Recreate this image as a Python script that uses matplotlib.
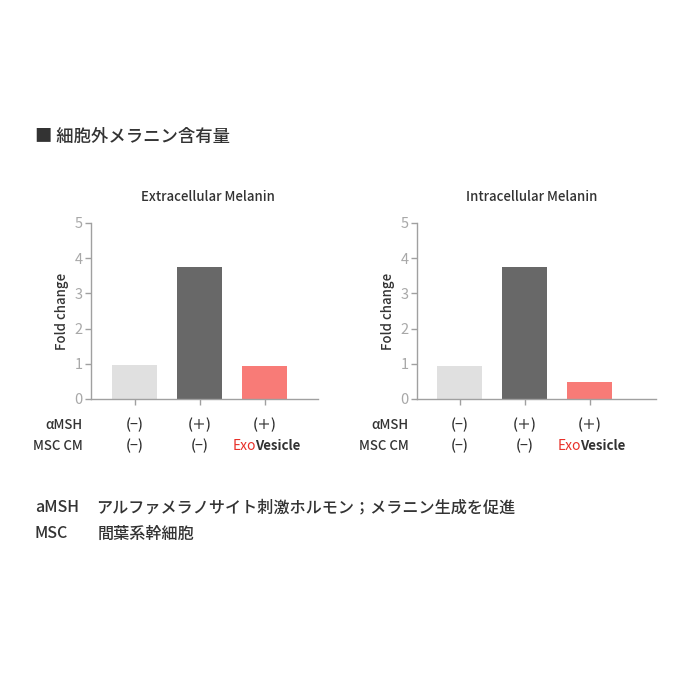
import matplotlib
matplotlib.use("Agg")
import matplotlib.pyplot as plt
import matplotlib.transforms as mtransforms

plt.rcParams['font.family'] = ['Noto Sans CJK JP', 'DejaVu Sans']

# ---- data ----
titles = ["Extracellular Melanin", "Intracellular Melanin"]
extracellular = [0.98, 3.76, 0.93]
intracellular = [0.94, 3.76, 0.49]
amsh_labels = ["(−)", "(＋)", "(＋)"]
msc_labels = ["(−)", "(−)", None]  # None -> ExoVesicle
yticks = [0, 1, 2, 3, 4, 5]
bar_colors = ["#e0e0e0", "#686868", "#f87b77"]
header = "■ 細胞外メラニン含有量"
notes = [("aMSH", "アルファメラノサイト刺激ホルモン；メラニン生成を促進"),
         ("MSC", "間葉系幹細胞")]

W = H = 700
fig = plt.figure(figsize=(7, 7), dpi=100)
fig.patch.set_facecolor("white")

def fx(px):
    return px / W

def fy(py):
    return 1 - py / H

spine_c = "#a0a0a0"
tick_c = "#a8a8a8"
text_c = "#333333"
wt = 'medium'

axes_specs = [
    (91, 318, (-0.67, 2.82), extracellular, titles[0], 208),
    (417, 656, (-0.66, 3.02), intracellular, titles[1], 532),
]

exo_pairs = []
for (x0, x1, xlim, vals, title, tcx) in axes_specs:
    ax = fig.add_axes([fx(x0), fy(399), fx(x1) - fx(x0), fy(223) - fy(399)])
    xs = list(range(len(vals)))
    ax.bar(xs, vals, width=0.69, color=bar_colors)
    ax.set_xlim(*xlim)
    ax.set_ylim(0, 5)
    for s in ["top", "right"]:
        ax.spines[s].set_visible(False)
    for s in ["left", "bottom"]:
        ax.spines[s].set_color(spine_c)
        ax.spines[s].set_linewidth(1.0)
    ax.set_yticks(yticks)
    ax.set_yticklabels([str(t) for t in yticks], fontsize=10.5, color=tick_c)
    ax.set_xticks(xs)
    ax.set_xticklabels([])
    ax.tick_params(axis='both', colors=spine_c, length=4, width=1)
    ax.tick_params(axis='y', labelcolor=tick_c, pad=2)
    ax.set_ylabel("Fold change", fontsize=9.5, color=text_c, labelpad=4, fontweight=wt)
    fig.text(fx(tcx), fy(197), title, ha='center', va='center', fontsize=9.5,
             color=text_c, fontweight=wt)

    blend = mtransforms.blended_transform_factory(ax.transData, fig.transFigure)
    fig.text(fx(x0 - 8), fy(425), "αMSH", ha='right', va='center', fontsize=9.5,
             color=text_c, fontweight=wt)
    fig.text(fx(x0 - 8), fy(446), "MSC CM", ha='right', va='center', fontsize=9.5,
             color=text_c, fontweight=wt)
    for i, (a, m) in enumerate(zip(amsh_labels, msc_labels)):
        ax.text(i, fy(425), a, transform=blend, ha='center', va='center', fontsize=10,
                color=text_c, fontweight=wt)
        if m is not None:
            ax.text(i, fy(446), m, transform=blend, ha='center', va='center', fontsize=10,
                    color=text_c, fontweight=wt)
        else:
            exo = ax.annotate("Exo", xy=(i, fy(446)), xycoords=blend, xytext=(-6, 0),
                              textcoords='offset points', ha='right', va='center',
                              fontsize=10, color="#e8312a", annotation_clip=False)
            exo_pairs.append(exo)

fig.canvas.draw()
renderer = fig.canvas.get_renderer()
for exo in exo_pairs:
    bb = exo.get_window_extent(renderer)
    xr = bb.x1 / W
    ycen = (bb.y0 + bb.y1) / 2 / H
    fig.text(xr - 0.002, ycen, "Vesicle", ha='left', va='center', fontsize=9.6,
             color="#333333", fontweight='bold')

fig.text(fx(35), fy(137), header, ha='left', va='center', fontsize=12.5,
         color=text_c, fontweight=wt)

note_y = [508, 534]
note_x2 = [96, 98]
for (k, v), yy, x2 in zip(notes, note_y, note_x2):
    fig.text(fx(35), fy(yy), k, ha='left', va='center', fontsize=11.6, color=text_c, fontweight=wt)
    fig.text(fx(x2), fy(yy), v, ha='left', va='center', fontsize=11.6, color=text_c, fontweight=wt)

fig.savefig("out.png", dpi=100, facecolor="white")
